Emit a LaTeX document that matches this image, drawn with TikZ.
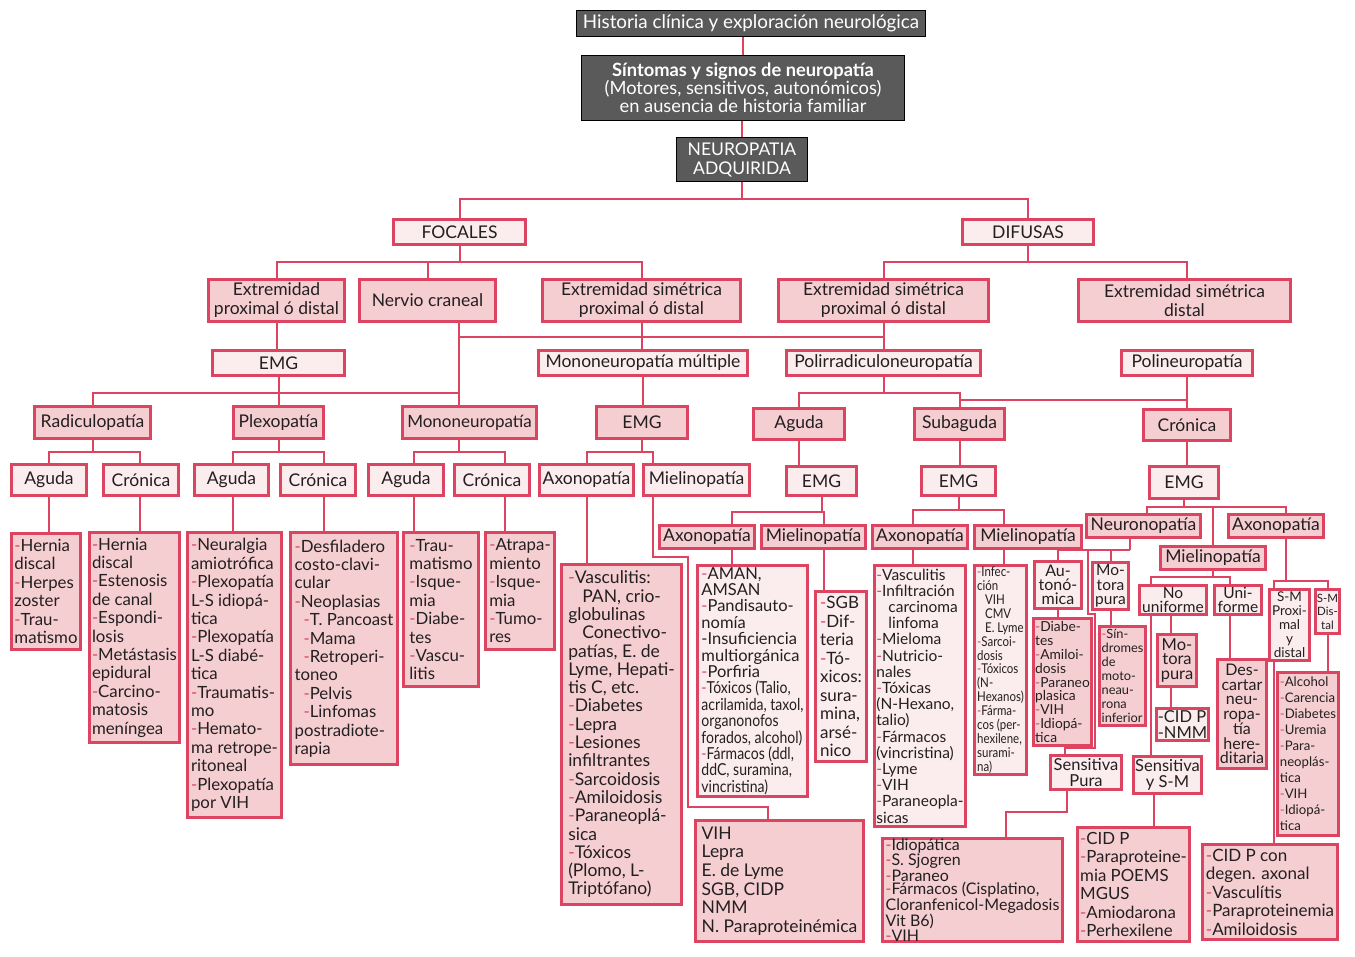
\documentclass[tikz,border=0pt]{standalone}
\usepackage{fontspec}
\setmainfont{Lato}
\newfontfamily\nrw[FakeStretch=0.85]{Lato}
\usetikzlibrary{backgrounds}
\definecolor{rd}{RGB}{221,68,98}
\definecolor{pkf}{RGB}{245,206,209}
\definecolor{ltf}{RGB}{251,236,237}
\definecolor{dkf}{RGB}{90,90,90}
\definecolor{tx}{RGB}{35,31,32}
\newcommand\fs[2]{\fontsize{#1}{#2}\selectfont}
\newcommand\dsh{\textcolor{rd}{-}}
\newcommand\bx[7]{%
  \pgfmathsetmacro\bxw{#4-#2-3}%
  \pgfmathsetmacro\bxh{#5-#3-3}%
  \node[#6,anchor=north west,minimum width=\bxw pt,minimum height=\bxh pt] (#1) at (#2,#3) {#7};}
\tikzset{
  base/.style={draw=rd,line width=3pt,text=tx,inner xsep=1pt,inner ysep=0pt},
  lb/.style={base,fill=ltf},
  pb/.style={base,fill=pkf},
  db/.style={draw=black,line width=1pt,fill=dkf,text=white,align=center,inner sep=0pt},
  lab/.style={align=center,font=\fs{17.5}{19}},
  lst/.style={align=left,font=\fs{16.8}{18.4}},
  conn/.style={draw=rd,line width=2pt},
}
\begin{document}
\begin{tikzpicture}[x=1pt,y=-1pt]
\useasboundingbox (0,0) rectangle (1355,957);
% top
\bx{hist}{576}{10}{928}{39}{db,font=\fs{18.8}{19}}{Historia clínica y exploración neurológica}
\bx{sint}{581}{55}{907}{123}{db,font=\fs{18.3}{18}}{\textbf{Síntomas y signos de neuropatía}\\(Motores, sensitivos, autonómicos)\\en ausencia de historia familiar}
\bx{neuro}{676}{137}{810}{184}{db,font=\fs{17.5}{19}}{NEUROPATIA\\ADQUIRIDA}
% levels
\bx{focal}{392}{218}{527}{246}{lb,lab}{FOCALES}
\bx{difus}{961}{218}{1095}{246}{lb,lab}{DIFUSAS}
\bx{epd}{207}{278}{346}{323}{pb,lab}{Extremidad\\proximal ó distal}
\bx{nerv}{358}{278}{497}{323}{pb,lab}{Nervio craneal}
\bx{espdF}{541}{278}{742}{323}{pb,lab}{Extremidad simétrica\\proximal ó distal}
\bx{espdD}{777}{278}{990}{323}{pb,lab}{Extremidad simétrica\\proximal ó distal}
\bx{esd}{1077}{278}{1292}{323}{pb,lab}{Extremidad simétrica\\distal}
\bx{emgF}{211}{349}{346}{377}{lb,lab}{EMG}
\bx{mm}{537}{349}{749}{377}{lb,lab}{Mononeuropatía múltiple}
\bx{poli}{785}{349}{982}{377}{lb,lab}{Polirradiculoneuropatía}
\bx{polin}{1120}{349}{1254}{377}{lb,lab}{Polineuropatía}
\bx{radi}{33}{405}{152}{440}{pb,lab}{Radiculopatía}
\bx{plexo}{232}{405}{325}{440}{pb,lab}{Plexopatía}
\bx{mono}{401}{405}{538}{440}{pb,lab,font=\fs{17}{18}}{Mononeuropatía}
\bx{emgM}{595}{405}{689}{440}{pb,lab}{EMG}
\bx{agP}{752}{407}{846}{441}{pb,lab}{Aguda}
\bx{subP}{913}{407}{1006}{441}{pb,lab}{Subaguda}
\bx{croP}{1142}{408}{1232}{442}{pb,lab}{Crónica}
% row 4
\bx{rAg}{10}{463}{88}{497}{lb,lab}{Aguda}
\bx{rCr}{102}{463}{180}{497}{lb,lab}{Crónica}
\bx{pAg}{193}{463}{270}{497}{lb,lab}{Aguda}
\bx{pCr}{279}{463}{357}{497}{lb,lab}{Crónica}
\bx{mAg}{367}{463}{445}{497}{lb,lab}{Aguda}
\bx{mCr}{453}{463}{531}{497}{lb,lab}{Crónica}
\bx{mmAx}{538}{463}{635}{497}{lb,lab}{Axonopatía}
\bx{mmMi}{642}{463}{751}{497}{lb,lab}{Mielinopatía}
\bx{emgA}{785}{465}{858}{497}{lb,lab}{EMG}
\bx{emgS}{920}{465}{997}{497}{lb,lab}{EMG}
\bx{emgC}{1148}{465}{1220}{500}{lb,lab}{EMG}
% row 5
\bx{aAx}{658}{524}{756}{550}{pb,lab}{Axonopatía}
\bx{aMi}{760}{524}{867}{550}{pb,lab}{Mielinopatía}
\bx{sAx}{871}{524}{969}{550}{pb,lab}{Axonopatía}
\bx{sMi}{973}{524}{1083}{550}{pb,lab}{Mielinopatía}
\bx{neur}{1085}{513}{1202}{539}{pb,lab}{Neuronopatía}
\bx{cAx}{1227}{513}{1325}{539}{pb,lab}{Axonopatía}
\bx{cMi}{1159}{545}{1267}{571}{pb,lab}{Mielinopatía}
% small boxes
\bx{auto}{1033}{560}{1083}{610}{lb,align=center,font=\fs{16}{13.7}}{Au-\\tonó-\\mica}
\bx{mot1}{1091}{561}{1130}{611}{lb,align=center,font=\fs{15.5}{14.5}}{Mo-\\tora\\pura}
\bx{nouni}{1138}{584}{1208}{616}{lb,align=center,font=\fs{15.5}{14}}{No\\uniforme}
\bx{uni}{1213}{584}{1263}{616}{lb,align=center,font=\fs{15.5}{14}}{Uni-\\forme}
\bx{smp}{1268}{588}{1311}{662}{lb,align=center,font=\fs{13.5}{14}}{S-M\\Proxi-\\mal\\y\\distal}
\bx{smd}{1314}{588}{1341}{635}{lb,align=center,inner xsep=0pt,font=\fs{11.5}{13.5}}{S-M\\Dis-\\tal}
\bx{mot2}{1156}{633}{1198}{688}{pb,align=center,font=\fs{16.5}{14.5}}{Mo-\\tora\\pura}
\bx{cidn}{1155}{707}{1210}{742}{lb,align=left,font=\fs{16.5}{16.5}}{-CID P\\-NMM}
\bx{desc}{1216}{658}{1268}{770}{pb,align=center,font=\fs{16}{14.7}}{Des-\\cartar\\neu-\\ropa-\\tía\\here-\\ditaria}
\bx{spura}{1049}{754}{1123}{791}{lb,align=center,font=\fs{16.5}{16.5}}{Sensitiva\\Pura}
\bx{ssm}{1132}{755}{1203}{795}{lb,align=center,font=\fs{16.5}{16.5}}{Sensitiva\\y S-M}
% lists
\bx{L1}{10}{532}{82}{651}{pb,lst}{\dsh Hernia\\discal\\\dsh Herpes\\zoster\\\dsh Trau-\\matismo}
\bx{L2}{88}{531}{181}{744}{pb,lst}{\dsh Hernia\\discal\\\dsh Estenosis\\de canal\\\dsh Espondi-\\losis\\\dsh Metástasis\\epidural\\\dsh Carcino-\\matosis\\meníngea}
\bx{L3}{186}{531}{283}{819}{pb,lst}{\dsh Neuralgia\\amiotrófica\\\dsh Plexopatía\\L-S idiopá-\\tica\\\dsh Plexopatía\\L-S diabé-\\tica\\\dsh Traumatis-\\mo\\\dsh Hemato-\\ma retrope-\\ritoneal\\\dsh Plexopatía\\por VIH}
\bx{L4}{289}{531}{399}{766}{pb,lst}{\dsh Desfiladero\\costo-clavi-\\cular\\\dsh Neoplasias\\\hspace*{9pt}\dsh T. Pancoast\\\hspace*{9pt}\dsh Mama\\\hspace*{9pt}\dsh Retroperi-\\toneo\\\hspace*{9pt}\dsh Pelvis\\\hspace*{9pt}\dsh Linfomas\\postradiote-\\rapia}
\bx{L5}{402}{531}{480}{688}{pb,lst}{\dsh Trau-\\matismo\\\dsh Isque-\\mia\\\dsh Diabe-\\tes\\\dsh Vascu-\\litis}
\bx{L6}{484}{531}{556}{651}{pb,lst}{\dsh Atrapa-\\miento\\\dsh Isque-\\mia\\\dsh Tumo-\\res}
\bx{L7}{560}{563}{683}{906}{pb,align=left,font=\fs{17.5}{18.3}}{\dsh Vasculitis:\\\hspace*{14pt}PAN, crio-\\globulinas\\\hspace*{14pt}Conectivo-\\patías, E. de\\Lyme, Hepati-\\tis C, etc.\\\dsh Diabetes\\\dsh Lepra\\\dsh Lesiones\\infiltrantes\\\dsh Sarcoidosis\\\dsh Amiloidosis\\\dsh Paraneoplá-\\sica\\\dsh Tóxicos\\(Plomo, L-\\Triptófano)}
\bx{L8}{696}{564}{809}{798}{lb,align=left,font=\fs{16.5}{16.4}}{\dsh AMAN,\\AMSAN\\\dsh Pandisauto-\\nomía\\-Insuficiencia\\multiorgánica\\\dsh Porfiria\\\nrw\dsh Tóxicos (Talio,\\\nrw acrilamida, taxol,\\\nrw organonofos\\\nrw forados, alcohol)\\\nrw\dsh Fármacos (ddl,\\\nrw ddC, suramina,\\\nrw vincristina)}
\bx{L9}{814}{590}{868}{763}{lb,align=left,font=\fs{17}{18.5}}{\dsh SGB\\\dsh Dif-\\teria\\\dsh Tó-\\xicos:\\sura-\\mina,\\arsé-\\nico}
\bx{L10}{694}{819}{865}{943}{pb,align=left,font=\fs{17.5}{18.6}}{VIH\\Lepra\\E. de Lyme\\SGB, CIDP\\NMM\\N. Paraproteinémica}
\bx{L11}{873}{564}{967}{828}{lb,align=left,font=\fs{15.5}{16.2}}{\dsh Vasculitis\\\dsh Infiltración\\\hspace*{12pt}carcinoma\\\hspace*{12pt}linfoma\\\dsh Mieloma\\\dsh Nutricio-\\nales\\\dsh Tóxicas\\(N-Hexano,\\talio)\\\dsh Fármacos\\(vincristina)\\\dsh Lyme\\\dsh VIH\\\dsh Paraneopla-\\sicas}
\bx{L12}{973}{564}{1028}{776}{lb,align=left,font=\nrw\fs{13.5}{13.9}}{\dsh Infec-\\ción\\\hspace*{8pt}VIH\\\hspace*{8pt}CMV\\\hspace*{8pt}E. Lyme\\\dsh Sarcoi-\\dosis\\\dsh Tóxicos\\(N-\\Hexanos)\\\dsh Fárma-\\cos (per-\\hexilene,\\surami-\\na)}
\bx{L13}{1032}{617}{1093}{747}{pb,align=left,inner xsep=0pt,font=\fs{13.8}{13.8}}{\dsh Diabe-\\tes\\\dsh Amiloi-\\dosis\\\dsh Paraneo\\plasica\\\dsh VIH\\\dsh Idiopá-\\tica}
\bx{L14}{1098}{625}{1147}{727}{pb,align=left,font=\fs{12.8}{13.9}}{\dsh Sín-\\dromes\\de\\moto-\\neau-\\rona\\inferior}
\bx{L15}{1276}{671}{1340}{837}{pb,align=left,font=\fs{13.2}{16}}{\dsh Alcohol\\\dsh Carencia\\\dsh Diabetes\\\dsh Uremia\\\dsh Para-\\neoplás-\\tica\\\dsh VIH\\\dsh Idiopá-\\tica}
\bx{L16}{881}{837}{1064}{942}{pb,align=left,font=\fs{16}{13.8}}{\dsh Idiopática\\\dsh S. Sjogren\\\dsh Paraneo\\\dsh Fármacos (Cisplatino,\\Cloranfenicol-Megadosis\\Vit B6)\\\dsh VIH}
\bx{L17}{1076}{826}{1191}{943}{pb,align=left,font=\fs{16.8}{18.5}}{\dsh CID P\\\dsh Paraproteine-\\mia POEMS\\MGUS\\\dsh Amiodarona\\\dsh Perhexilene}
\bx{L18}{1201}{843}{1339}{941}{pb,align=left,font=\fs{17}{18.5}}{\dsh CID P con\\degen. axonal\\\dsh Vasculítis\\\dsh Paraproteinemia\\\dsh Amiloidosis}
% connectors
\begin{pgfonlayer}{background}
\fill[white] (0,0) rectangle (1355,957);
\draw[conn] (sint.north) -- (sint.north |- hist.south);
\draw[conn] (neuro.north) -- (neuro.north |- sint.south);
\draw[conn] (neuro.south) -- ++(0,17) coordinate (b1);
\draw[conn] (focal.north) |- (b1) -| (difus.north);
\draw[conn] (focal.south) -- ++(0,16) coordinate (b2);
\draw[conn] (epd.north) |- (b2) -| (espdF.north);
\draw[conn] (nerv.north) -- (nerv.north |- b2);
\draw[conn] (difus.south) -- ++(0,16) coordinate (b3);
\draw[conn] (espdD.north) |- (b3) -| ([xshift=2.5pt]esd.north);
\draw[conn] (epd.south) -- (epd.south |- emgF.north);
\coordinate (nv) at ([xshift=31.5pt]nerv.south);
\draw[conn] (nv) -- (nv |- mono.north);
\draw[conn] (nv) ++(0,14) coordinate (b4) -- (b4 -| espdD.south);
\draw[conn] (espdF.south) -- (espdF.south |- mm.north);
\draw[conn] (espdD.south) -- (espdD.south |- poli.north);
\draw[conn] (emgF.south) -- ++(0,16) coordinate (b5);
\draw[conn] (radi.north) |- (b5) -- (b5 -| nv);
\draw[conn] (plexo.north) -- (plexo.north |- b5);
\draw[conn] (mm.south) -- (mm.south |- emgM.north);
\draw[conn] (poli.south) -- ++(0,16) coordinate (b6);
\draw[conn] (agP.north) |- (b6) -| (subP.north);
\draw[conn] (polin.south) -- (polin.south |- croP.north);
\draw[conn] (subP.north) ++(0,-7) coordinate (b7) -- (b7 -| croP.north);
\draw[conn] (radi.south) -- ++(0,12) coordinate (b8);
\draw[conn] (rAg.north) |- (b8) -| ([xshift=-1pt]rCr.north);
\draw[conn] (plexo.south) -- ++(0,12) coordinate (b9);
\draw[conn] ([xshift=1.5pt]pAg.north) |- (b9) -| ([xshift=6pt]pCr.north);
\draw[conn] (nv |- mono.south) -- ++(0,12) coordinate (b10);
\draw[conn] ([xshift=8pt]mAg.north) |- (b10) -| ([xshift=13pt]mCr.north);
\draw[conn] (emgM.south) -- ++(0,12) coordinate (b11);
\draw[conn] (mmAx.north) |- (b11) -| ([xshift=-43.5pt]mmMi.north);
\foreach \a/\s/\l in {rAg/0/L1, rCr/-1/L2, pAg/1.5/L3, pCr/6/L4, mAg/8/L5, mCr/13/L6, mmAx/0/L7, aAx/25/L8, aMi/10.5/L9, sAx/-7/L11, sMi/-24/L12, auto/0/L13, mot1/0/L14, nouni/-2/mot2, mot2/-6/cidn, uni/-8/desc, smd/0.5/L15, ssm/-13.5/L17}
  {\path ([xshift=\s pt]\a.south) coordinate (tmp);
   \draw[conn] (tmp) -- (tmp |- \l.north);}
\draw[conn] (agP.south) -- (agP.south |- emgA.north);
\draw[conn] (subP.south) -- (subP.south |- emgS.north);
\draw[conn] (croP.south) -- (croP.south |- emgC.north);
\draw[conn] (emgA.south) -- ++(0,15) coordinate (b12);
\draw[conn] ([xshift=25pt]aAx.north) |- (b12) -| ([xshift=10.5pt]aMi.north);
\draw[conn] (emgS.south) -- ++(0,13) coordinate (b13);
\draw[conn] ([xshift=-7pt]sAx.north) |- (b13) -| ([xshift=-24pt]sMi.north);
\draw[conn] (emgC.south) -- ++(0,7) coordinate (b14);
\draw[conn] ([xshift=3.5pt]neur.north) |- (b14) -| ([xshift=10pt]cAx.north);
\draw[conn] (cMi.north) -- (cMi.north |- b14);
\draw[conn] ([xshift=-13.5pt]neur.south) -- ++(0,11) coordinate (b15);
\draw[conn] (auto.north) |- (b15);
\draw[conn] (mot1.north) -- (mot1.north |- b15);
\coordinate (q1) at ([xshift=-55.5pt]neur.south);
\draw[conn] (q1 |- b15) -- ++(0,64) -- ++(7,0) -- ++(0,134) -| ([xshift=-21pt]spura.north);
\draw[conn] (cMi.south) -- ++(0,6) coordinate (b16);
\draw[conn] ([xshift=-16.5pt]ssm.north) |- (b16) -| ([xshift=-8pt]uni.north);
\draw[conn] ([xshift=10pt]cAx.south) -- ++(0,42) coordinate (b17);
\draw[conn] ([xshift=4pt]L18.north) |- (b17) -| ([xshift=0.5pt]smd.north);
\draw[conn] ([xshift=-19pt]spura.south) -- ++(0,21) -| ([xshift=33.5pt]L16.north);
\coordinate (q2) at ([xshift=-43.5pt]mmMi.south);
\draw[conn] (q2) -- ++(0,60) -- ++(35,0) -- ++(0,250) -| ([xshift=-11.5pt]L10.north);
\end{pgfonlayer}
\end{tikzpicture}
\end{document}
